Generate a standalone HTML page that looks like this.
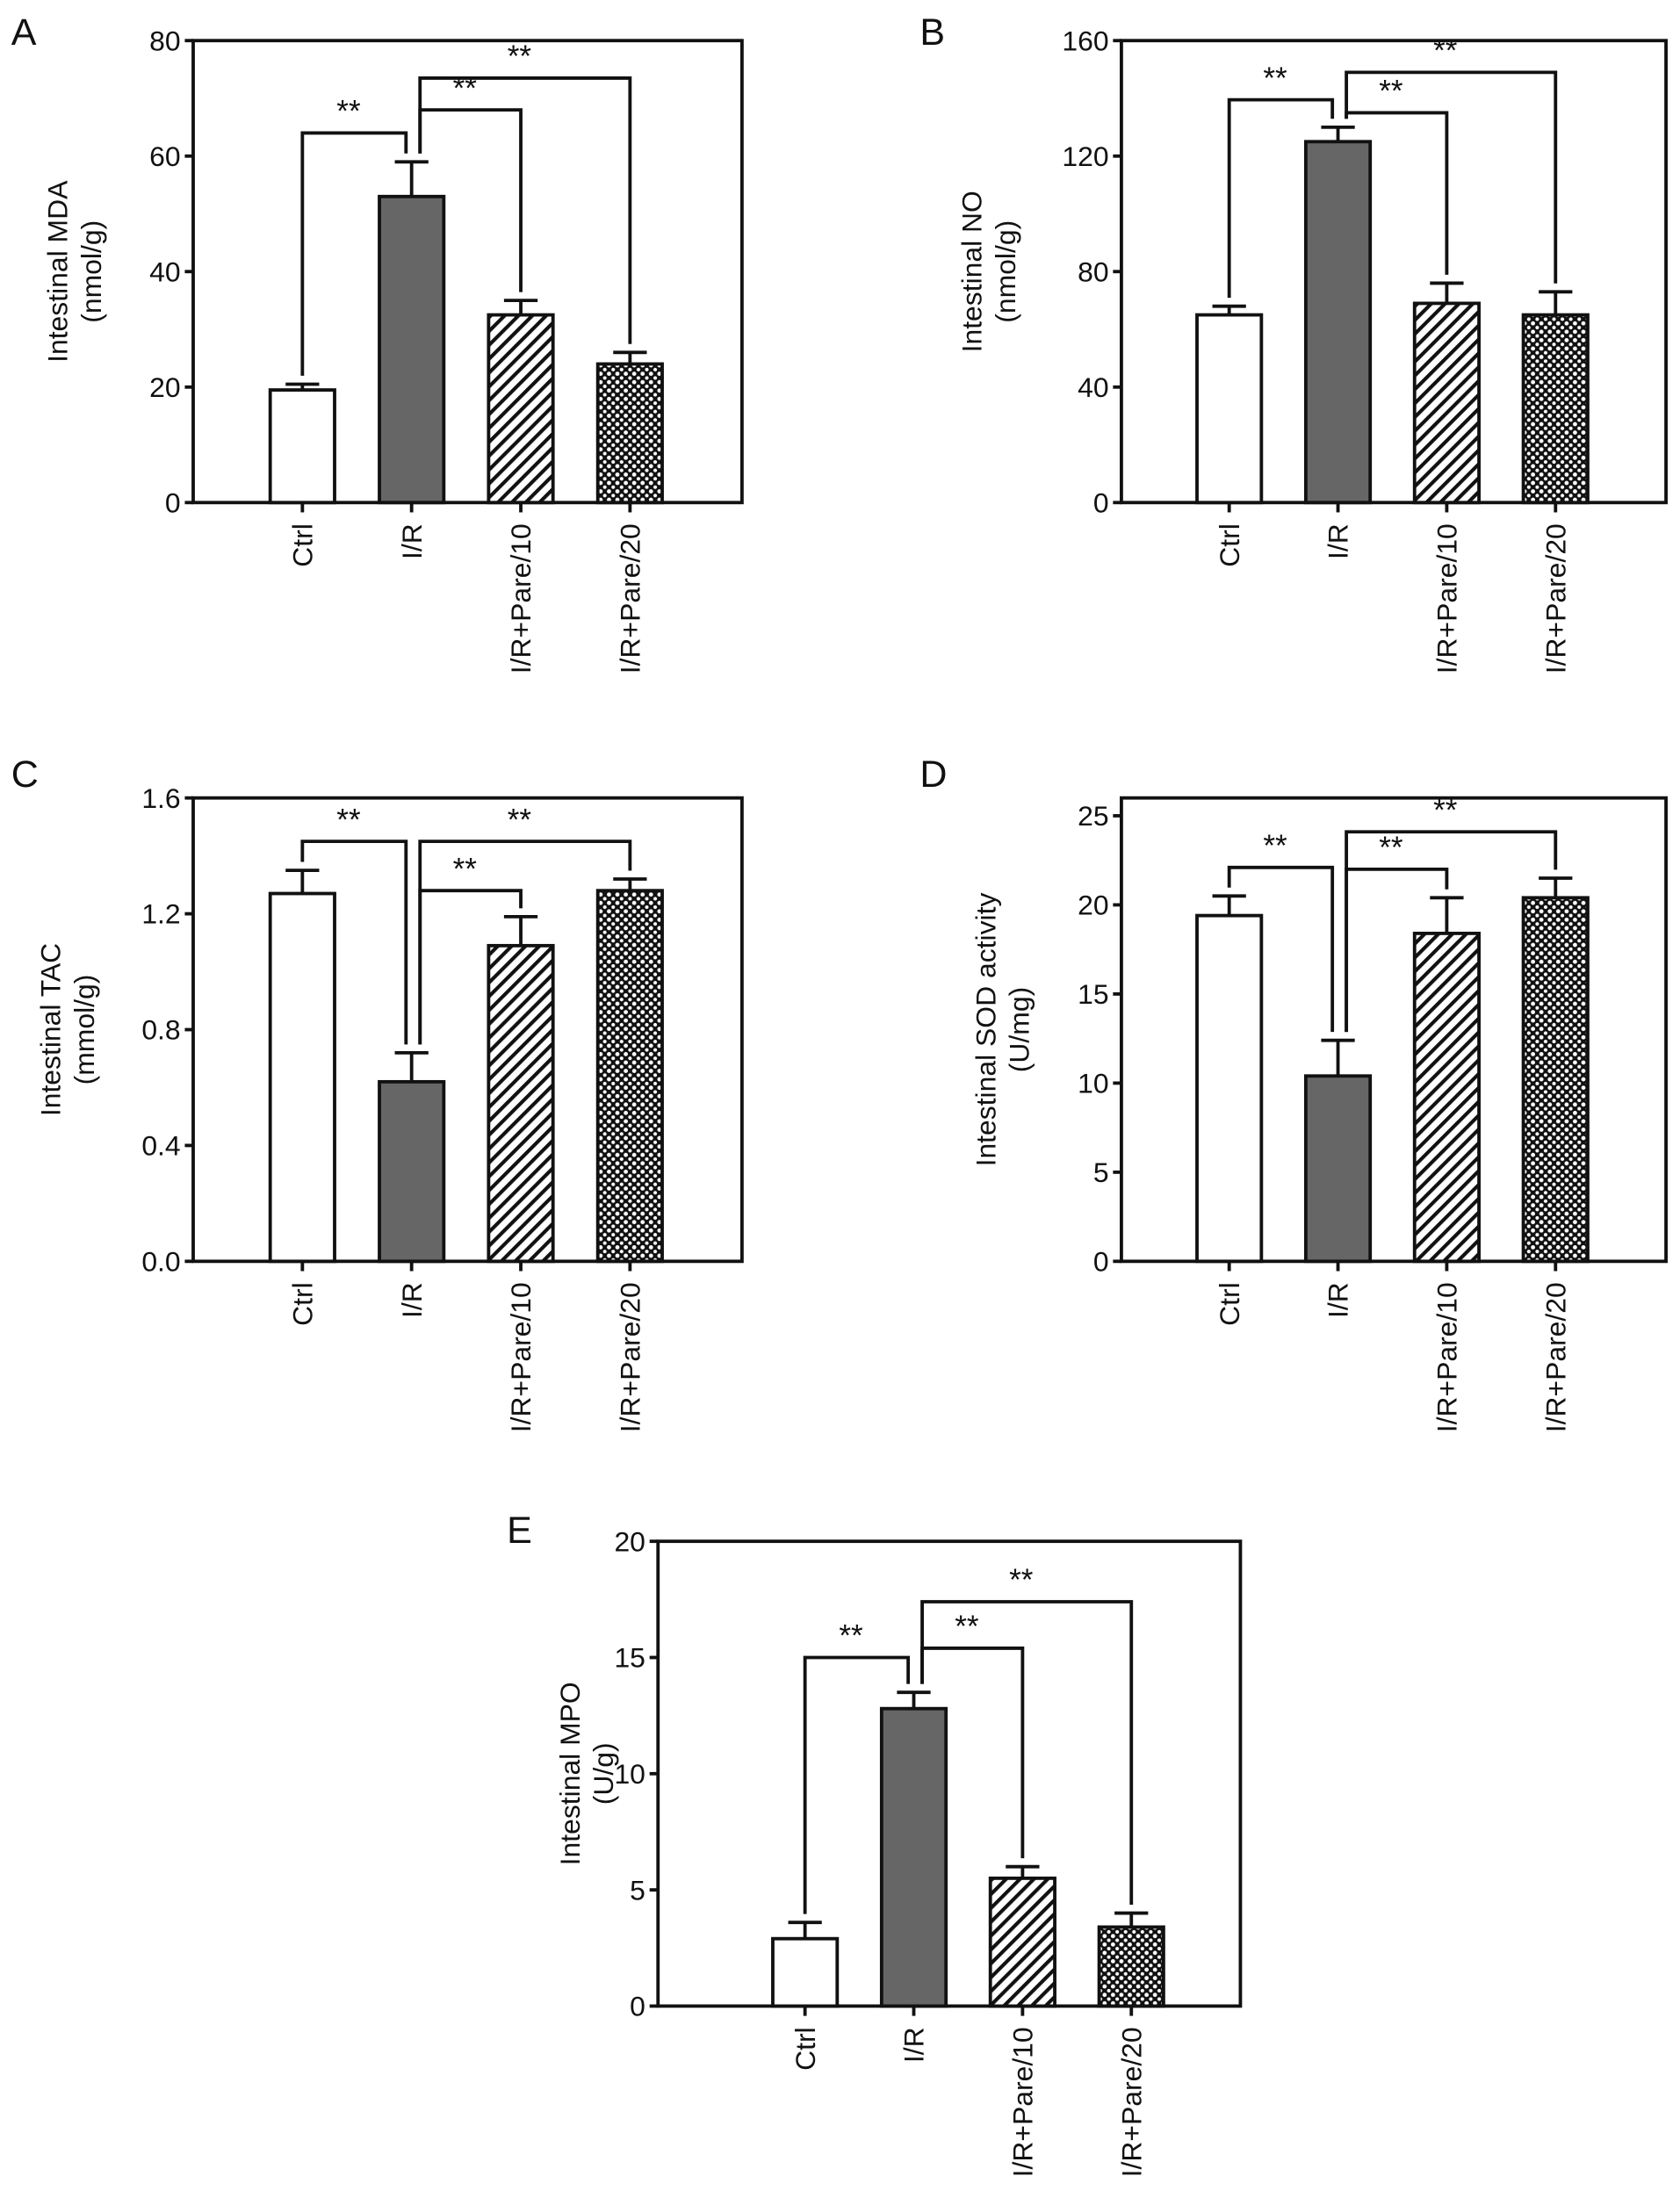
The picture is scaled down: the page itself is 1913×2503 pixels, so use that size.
<!DOCTYPE html>
<html><head><meta charset="utf-8"><style>html,body{margin:0;padding:0;background:#fff}svg{display:block}text{font-family:"Liberation Sans",Arial,sans-serif;fill:#111}</style></head>
<body>
<svg id="fig" width="1913" height="2503" viewBox="0 0 1200 1570.1" xmlns="http://www.w3.org/2000/svg">
<defs>
<pattern id="hatch" patternUnits="userSpaceOnUse" width="7" height="7" patternTransform="rotate(45)">
<rect width="7" height="7" fill="#fff"/><rect x="0" y="0" width="2.6" height="7" fill="#111"/>
</pattern>
<pattern id="check" patternUnits="userSpaceOnUse" width="6" height="6">
<rect width="6" height="6" fill="#111"/><circle cx="3" cy="3" r="1.5" fill="#fff"/><circle cx="0" cy="0" r="1.3" fill="#fff"/><circle cx="6" cy="0" r="1.3" fill="#fff"/><circle cx="0" cy="6" r="1.3" fill="#fff"/><circle cx="6" cy="6" r="1.3" fill="#fff"/>
</pattern>
</defs>
</svg>
<script>
const categories = ["Ctrl","I/R","I/R+Pare/10","I/R+Pare/20"];
const mdaValues = [19.5, 53, 32.5, 24];
const mdaErrors = [20.5, 59, 35, 26];
const noValues = [65, 125, 69, 65];
const noErrors = [68, 130, 76, 73];
const tacValues = [1.27, 0.62, 1.09, 1.28];
const tacErrors = [1.35, 0.72, 1.19, 1.32];
const sodValues = [19.4, 10.4, 18.4, 20.4];
const sodErrors = [20.5, 12.4, 20.4, 21.5];
const mpoValues = [2.9, 12.8, 5.5, 3.4];
const mpoErrors = [3.6, 13.5, 6.0, 4.0];
const mdaTicks = ["0","20","40","60","80"];
const noTicks = ["0","40","80","120","160"];
const tacTicks = ["0.0","0.4","0.8","1.2","1.6"];
const sodTicks = ["0","5","10","15","20","25"];
const mpoTicks = ["0","5","10","15","20"];
// brackets: [from index, to index, level value]
const mdaBrackets = [[0,1,64],[1,2,68],[1,3,73.5]];
const noBrackets = [[0,1,139.5],[1,2,135],[1,3,149]];
const tacBrackets = [[0,1,1.45],[1,2,1.28],[1,3,1.45]];
const sodBrackets = [[0,1,22.1],[1,2,22],[1,3,24.1]];
const mpoBrackets = [[0,1,15],[1,2,15.4],[1,3,17.4]];

const NS="http://www.w3.org/2000/svg";
const svg=document.getElementById('fig');
function mk(tag,attrs,parent){const e=document.createElementNS(NS,tag);for(const k in attrs)e.setAttribute(k,attrs[k]);(parent||svg).appendChild(e);return e;}
const fills=["#fff","#666","url(#hatch)","url(#check)"];
const SW=2.4;

function panel(p){
  const g=mk('g',{});
  
  
  const y=v=>p.bottom-(v/p.max)*(p.bottom-p.top);
  const x=i=>p.cx0+i*p.step;
  const L=mk('text',{x:p.lx,y:p.ly,'font-size':27},g);L.textContent=p.letter;
  
  
  const fr=mk('rect',{x:p.left,y:p.top,width:p.right-p.left,height:p.bottom-p.top,fill:'none',stroke:'#111','stroke-width':SW},g);
  
  
  p.ticks.forEach(t=>{const v=parseFloat(t),yy=y(v);
    mk('line',{x1:p.left-6,x2:p.left,y1:yy,y2:yy,stroke:'#111','stroke-width':SW},g);
    const tt=mk('text',{x:p.left-9,y:yy+7,'font-size':20,'text-anchor':'end'},g);tt.textContent=t;
    
    
  });
  const t1=mk('text',{transform:`translate(${p.left+p.t1},${(p.top+p.bottom)/2}) rotate(-90)`,'font-size':20,'text-anchor':'middle'},g);t1.textContent=p.title1;
  
  
  const t2=mk('text',{transform:`translate(${p.left+p.t1+24},${(p.top+p.bottom)/2}) rotate(-90)`,'font-size':20,'text-anchor':'middle'},g);t2.textContent=p.title2;
  
  
  const w=46;
  categories.forEach((c,i)=>{const cx=x(i);
    const ey=y(p.err[i]),vy=y(p.vals[i]);
    mk('line',{x1:cx,x2:cx,y1:ey,y2:vy,stroke:'#111','stroke-width':SW},g);
    mk('line',{x1:cx-12,x2:cx+12,y1:ey,y2:ey,stroke:'#111','stroke-width':SW},g);
    const b=mk('rect',{x:cx-w/2,y:vy,width:w,height:p.bottom-vy,fill:fills[i],stroke:'#111','stroke-width':SW},g);
    
    
    mk('line',{x1:cx,x2:cx,y1:p.bottom,y2:p.bottom+7,stroke:'#111','stroke-width':SW},g);
    const xl=mk('text',{transform:`translate(${cx+7},${p.bottom+15}) rotate(-90)`,'font-size':20,'text-anchor':'end'},g);xl.textContent=c;
    
    
  });
  p.br.forEach(([a,b,lv])=>{
    const by=y(lv);
    const xa=a===1?x(a)+6:x(a);
    const xb=b===1?x(b)-4:x(b);
    const ya=y(p.err[a])-6, yb=y(p.err[b])-6;
    const pl=mk('polyline',{points:`${xa},${ya} ${xa},${by} ${xb},${by} ${xb},${yb}`,fill:'none',stroke:'#111','stroke-width':SW},g);
    
    
    const s=mk('text',{x:(xa+xb)/2-4,y:by-8,'font-size':22,'text-anchor':'middle'},g);s.textContent='**';
    
    
  });
}
panel({letter:'A',lx:8,ly:32,left:138,right:530,top:29,bottom:359,max:80,cx0:216,step:78,ticks:mdaTicks,vals:mdaValues,err:mdaErrors,br:mdaBrackets,title1:'Intestinal MDA',title2:'(nmol/g)',t1:-90});
panel({letter:'B',lx:657,ly:32,left:801,right:1190,top:29,bottom:359,max:160,cx0:878,step:77.7,ticks:noTicks,vals:noValues,err:noErrors,br:noBrackets,title1:'Intestinal NO',title2:'(nmol/g)',t1:-100});
panel({letter:'C',lx:8,ly:562,left:138,right:530,top:570,bottom:901,max:1.6,cx0:216,step:78,ticks:tacTicks,vals:tacValues,err:tacErrors,br:tacBrackets,title1:'Intestinal TAC',title2:'(mmol/g)',t1:-95});
panel({letter:'D',lx:657,ly:562,left:801,right:1190,top:570,bottom:901,max:26,cx0:878,step:77.7,ticks:sodTicks,vals:sodValues,err:sodErrors,br:sodBrackets,title1:'Intestinal SOD activity',title2:'(U/mg)',t1:-90});
panel({letter:'E',lx:362,ly:1102,left:470,right:886,top:1101,bottom:1433,max:20,cx0:575,step:77.7,ticks:mpoTicks,vals:mpoValues,err:mpoErrors,br:mpoBrackets,title1:'Intestinal MPO',title2:'(U/g)',t1:-56});
</script>
</body></html>
